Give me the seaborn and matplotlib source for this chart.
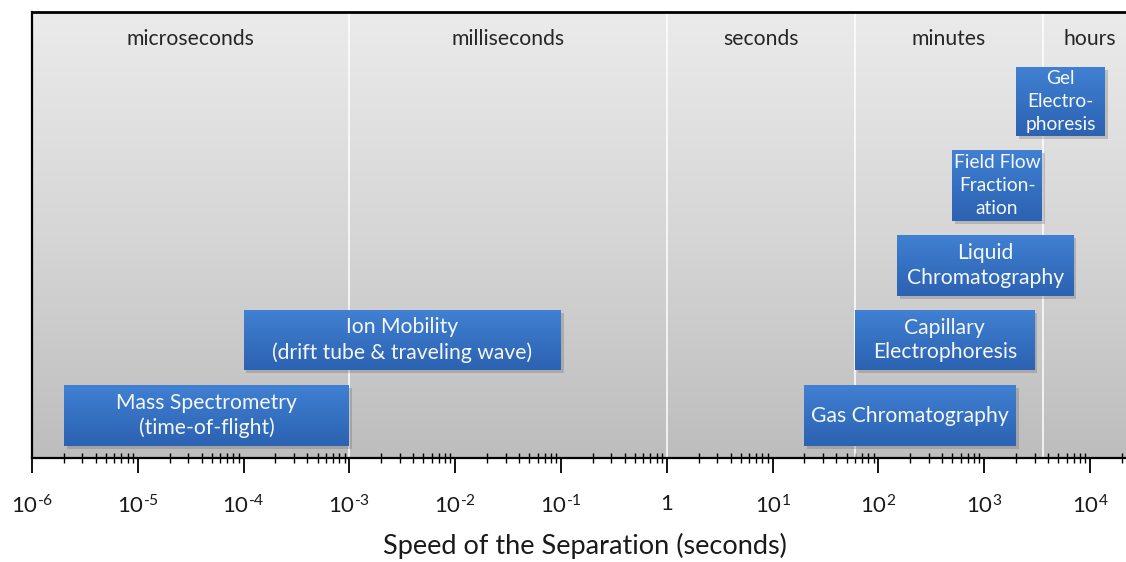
import numpy as np
import pandas as pd
import seaborn as sns
import matplotlib
matplotlib.use("Agg")
import matplotlib.pyplot as plt
import matplotlib.patheffects as pe
from matplotlib.colors import LinearSegmentedColormap, to_rgb
from matplotlib.ticker import LogLocator, FixedLocator, FixedFormatter, NullFormatter

# --- data -------------------------------------------------------------
methods = [
    "Mass Spectrometry\n(time-of-flight)",
    "Ion Mobility\n(drift tube & traveling wave)",
    "Gas Chromatography",
    "Capillary\nElectrophoresis",
    "Liquid\nChromatography",
    "Field Flow\nFraction-\nation",
    "Gel\nElectro-\nphoresis",
]
start_s = [2e-6, 1e-4, 20, 60, 150, 500, 2000]
end_s = [1e-3, 1e-1, 2000, 3000, 7000, 3500, 14000]
lane = [0, 1, 0, 1, 2, 3, 4]

scale_names = ["microseconds", "milliseconds", "seconds", "minutes", "hours"]
scale_edges = [1e-6, 1e-3, 1, 60, 3600, 2.78e4]

tick_values = [1e-6, 1e-5, 1e-4, 1e-3, 1e-2, 1e-1, 1, 1e1, 1e2, 1e3, 1e4]
tick_labels = ["$10^{\u20106}$", "$10^{\u20105}$", "$10^{\u20104}$", "$10^{\u20103}$",
               "$10^{\u20102}$", "$10^{\u20101}$", "1", "$10^{1}$", "$10^{2}$",
               "$10^{3}$", "$10^{4}$"]

df = pd.DataFrame({"method": methods, "start": start_s, "end": end_s, "lane": lane})

# --- layout -----------------------------------------------------------
lane_center = {0: 42.5, 1: 118.0, 2: 192.5, 3: 272.5, 4: 356.5}
lane_height = {0: 61, 1: 60, 2: 61, 3: 71, 4: 69}

sns.set_theme(style="ticks")
plt.rcParams["font.family"] = ["Lato", "DejaVu Sans"]
plt.rcParams["mathtext.fontset"] = "custom"
plt.rcParams["mathtext.rm"] = "Lato"
plt.rcParams["mathtext.it"] = "Lato:italic"
plt.rcParams["mathtext.bf"] = "Lato:bold"

fig = plt.figure(figsize=(11.26, 5.62), dpi=100)
ax = fig.add_axes([32 / 1126, 104 / 562, (1137 - 32) / 1126, 446 / 562])
ax.set_xscale("log")
ax.set_xlim(scale_edges[0], scale_edges[-1])
ax.set_ylim(0, 446)

# gray backdrop, lighter at the top
bg = LinearSegmentedColormap.from_list("bg", ["#bdbdbd", "#d6d6d6", "#ebebeb"])
ax.imshow(np.linspace(0, 1, 256).reshape(-1, 1), cmap=bg, origin="lower",
          extent=(0, 1, 0, 1), transform=ax.transAxes, aspect="auto", zorder=0)

# white separators between time scales
for edge in scale_edges[1:-1]:
    ax.axvline(edge, color="white", lw=1.1, zorder=1)

# time-scale headings
for name, lo, hi in zip(scale_names, scale_edges[:-1], scale_edges[1:]):
    ax.text(np.sqrt(lo * hi), 419, name, ha="center", va="center",
            fontsize=15.2, color="#262626", zorder=2)

# method bars with a vertical blue gradient and a soft drop shadow
top_c = np.array(to_rgb("#407fd2"))
bot_c = np.array(to_rgb("#2b62b0"))
n_slices = 30
for _, row in df.iterrows():
    yc = lane_center[row["lane"]]
    h = lane_height[row["lane"]]
    y0 = yc - h / 2
    width = row["end"] - row["start"]
    ax.barh(yc, width, left=row["start"], height=h, color=bot_c, lw=0, zorder=3,
            path_effects=[pe.SimplePatchShadow(offset=(2, -2.5), shadow_rgbFace="#666666",
                                                alpha=0.3), pe.Normal()])
    for k in range(n_slices):
        f = (k + 0.5) / n_slices
        c = bot_c + (top_c - bot_c) * f
        ax.barh(y0 + h * k / n_slices, width, left=row["start"],
                height=h / n_slices * 1.05, align="edge", color=c, lw=0,
                antialiased=False, zorder=4)
    n_lines = row["method"].count("\n") + 1
    three = n_lines == 3
    ax.text(np.sqrt(row["start"] * row["end"]), yc, row["method"], ha="center",
            va="center", color="#f4f7fc", fontsize=13.8 if three else 15.2,
            linespacing=1.42 if three else 1.3, zorder=5)

# axes styling
for side in ["left", "bottom", "top"]:
    ax.spines[side].set_color("black")
ax.spines["left"].set_linewidth(1.6)
ax.spines["bottom"].set_linewidth(1.6)
ax.spines["top"].set_linewidth(2.0)
ax.spines["right"].set_visible(False)
ax.set_yticks([])

ax.xaxis.set_major_locator(FixedLocator(tick_values))
ax.xaxis.set_major_formatter(FixedFormatter(tick_labels))
ax.xaxis.set_minor_locator(LogLocator(base=10, subs=np.arange(2, 10), numticks=40))
ax.xaxis.set_minor_formatter(NullFormatter())
ax.tick_params(axis="x", which="major", direction="out", length=11, width=1.3,
               color="black", labelsize=16, pad=15, labelcolor="#1a1a1a")
ax.tick_params(axis="x", which="minor", direction="inout", length=7, width=1.0,
               color="black")
ax.set_xlabel("Speed of the Separation (seconds)", fontsize=19.5, color="#1a1a1a",
              labelpad=11)

fig.savefig("out.png", dpi=100)
